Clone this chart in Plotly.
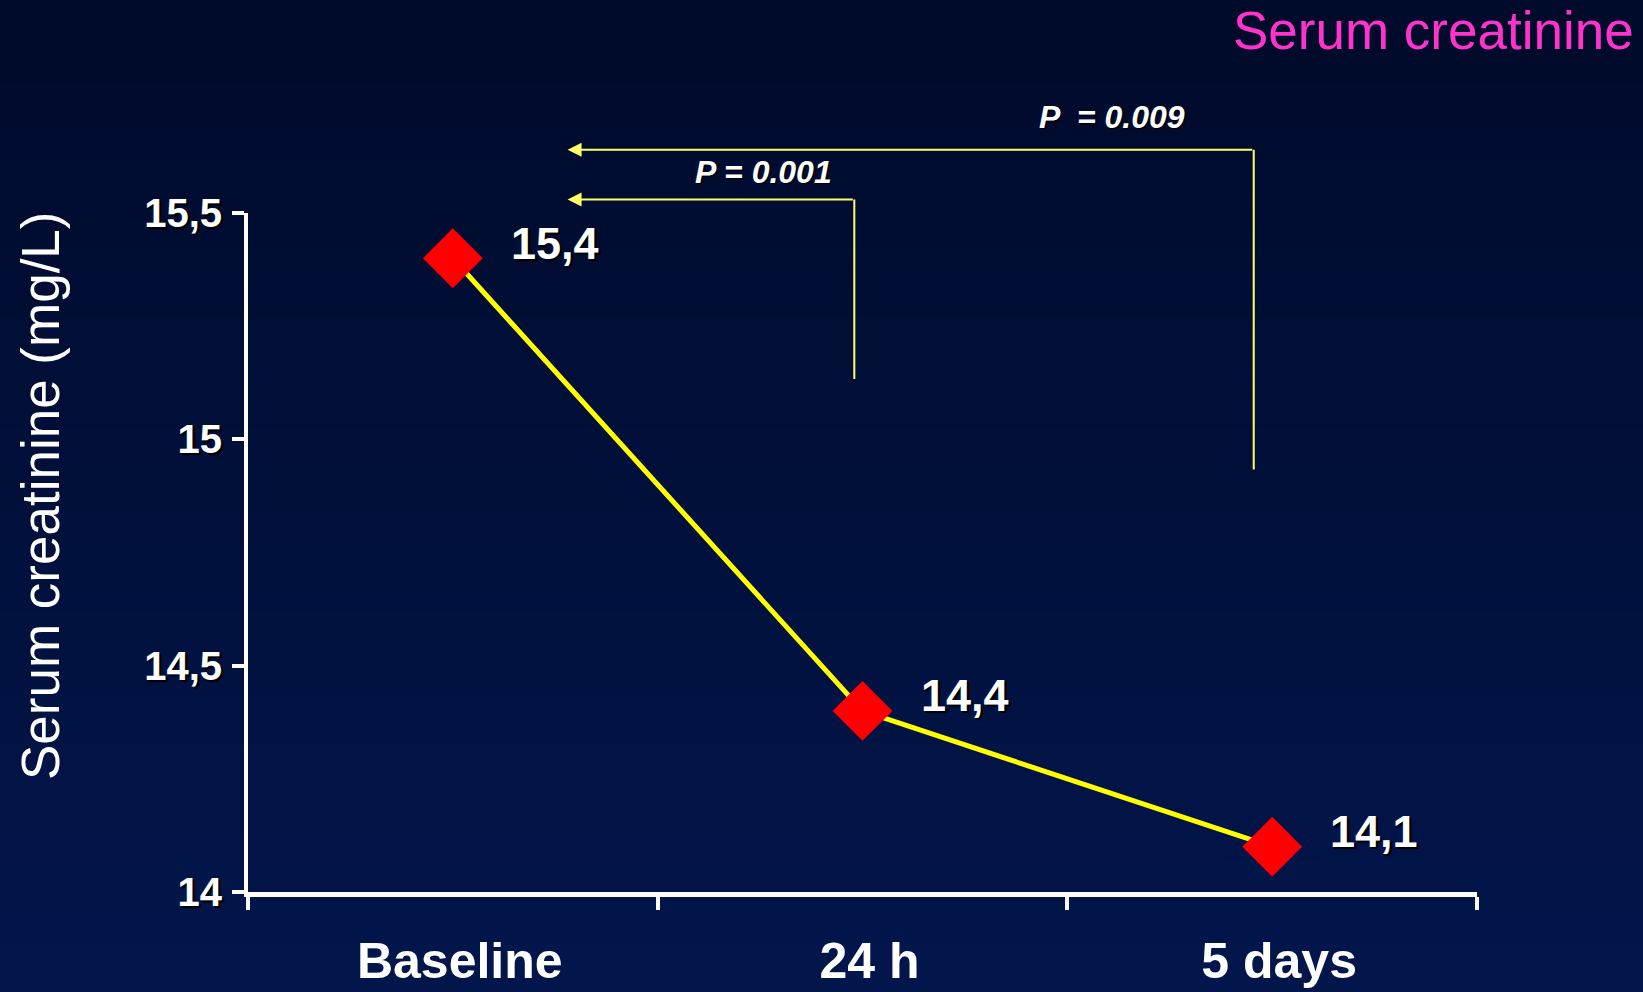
import plotly.graph_objects as go

# ---- data ----
categories = ["Baseline", "24 h", "5 days"]
creatinine = [15.4, 14.4, 14.1]
value_labels = ["15,4", "14,4", "14,1"]
x_ticktext = ["\u00a0Baseline", "\u00a024 h", "\u00a05 days"]
y_ticks = [14, 14.5, 15, 15.5]
y_ticktext = ["14", "14,5", "15", "15,5"]
comparisons = [
    {"label": "P = 0.001", "to": 0.28, "from": 0.98, "y": 15.53, "y_bottom": 15.13},
    {"label": "P \u00a0= 0.009", "to": 0.28, "from": 1.955, "y": 15.64, "y_bottom": 14.93},
]
Y_MIN, Y_MAX = 14, 15.5

W, H = 1643, 992
L, R, T, B = 248, 166, 213, 100

def py2paper(py):
    return (H - B - py) / (H - T - B)

def px2paper(px):
    return (px - L) / (W - L - R)

fig = go.Figure()

fig.add_trace(go.Scatter(
    x=categories, y=creatinine, mode="lines+markers",
    line=dict(color="#ffff00", width=5),
    marker=dict(symbol="diamond", size=46, color="#ff0000", line=dict(width=0)),
    cliponaxis=False, showlegend=False, hoverinfo="skip",
))

# background gradient bands
top = (0x00, 0x0a, 0x2a)
bot = (0x02, 0x16, 0x4c)
n = 60
shapes = []
for i in range(n):
    t = i / (n - 1)
    c = tuple(round(top[k] + (bot[k] - top[k]) * t) for k in range(3))
    y0 = i * H / n
    y1 = (i + 1) * H / n + 1
    shapes.append(dict(type="rect", xref="paper", yref="paper",
                       x0=px2paper(-5), x1=px2paper(W + 5),
                       y0=py2paper(y1), y1=py2paper(y0),
                       fillcolor="rgb(%d,%d,%d)" % c, line=dict(width=0), layer="below"))

annotations = []
# value labels
for cat, v, lab in zip(categories, creatinine, value_labels):
    annotations.append(dict(x=cat, y=v, xref="x", yref="y", text=lab, showarrow=False,
                            xanchor="left", yanchor="middle", xshift=56, yshift=15,
                            font=dict(family="Liberation Sans, Arial", size=45, color="white",
                                      weight="bold", shadow="2px 2px 1px black")))

# comparison brackets
for c in comparisons:
    # vertical line
    annotations.append(dict(x=c["from"], y=c["y"], ax=c["from"], ay=c["y_bottom"],
                            xref="x", yref="y", axref="x", ayref="y", text="",
                            showarrow=True, arrowhead=0, arrowwidth=2, arrowcolor="#ffff66"))
    # horizontal arrow (y expressed in paper fraction so it is not hidden above range)
    yp = (c["y"] - Y_MIN) / (Y_MAX - Y_MIN)
    annotations.append(dict(x=c["to"], y=yp, ax=c["from"], ay=0,
                            xref="x", yref="paper", axref="x", ayref="pixel", text="",
                            showarrow=True, arrowhead=2, arrowsize=1.4, arrowwidth=2,
                            arrowcolor="#ffff66"))
# p labels
annotations.append(dict(x=px2paper(763), y=py2paper(172), xref="paper", yref="paper",
                        text="<i>" + comparisons[0]["label"] + "</i>", showarrow=False,
                        xanchor="center", yanchor="middle",
                        font=dict(family="Liberation Sans, Arial", size=32, color="white",
                                  weight="bold", shadow="1px 1px 1px black")))
annotations.append(dict(x=px2paper(1112), y=py2paper(117), xref="paper", yref="paper",
                        text="<i>" + comparisons[1]["label"] + "</i>", showarrow=False,
                        xanchor="center", yanchor="middle",
                        font=dict(family="Liberation Sans, Arial", size=32, color="white",
                                  weight="bold", shadow="1px 1px 1px black")))

# title
annotations.append(dict(x=px2paper(1636), y=py2paper(30), xref="paper", yref="paper",
                        text="Serum creatinine", showarrow=False, xanchor="right",
                        yanchor="middle",
                        font=dict(family="Liberation Sans, Arial", size=53, color="#ff33cc")))
# y-axis title
annotations.append(dict(x=px2paper(40), y=py2paper(496), xref="paper", yref="paper",
                        text="Serum creatinine (mg/L)", showarrow=False, textangle=-90,
                        xanchor="center", yanchor="middle",
                        font=dict(family="Liberation Sans, Arial", size=53, color="white")))

fig.update_layout(
    width=W, height=H,
    margin=dict(l=L, r=R, t=T, b=B),
    paper_bgcolor="#01113e", plot_bgcolor="rgba(0,0,0,0)",
    shapes=shapes, annotations=annotations, showlegend=False,
    xaxis=dict(type="category", range=[-0.5, 2.5], tickson="boundaries", automargin=False,
               tickvals=categories, ticktext=x_ticktext,
               showline=True, linecolor="white", linewidth=5, showgrid=False, zeroline=False,
               ticks="outside", ticklen=13, tickwidth=4, tickcolor="white",
               ticklabelstandoff=21,
               tickfont=dict(family="Liberation Sans, Arial", size=50, color="white", weight="bold")),
    yaxis=dict(range=[Y_MIN, Y_MAX], tickvals=y_ticks, ticktext=y_ticktext, automargin=False,
               showline=True, linecolor="white", linewidth=4, showgrid=False, zeroline=False,
               ticks="outside", ticklen=12, tickwidth=4, tickcolor="white",
               ticklabelstandoff=2,
               tickfont=dict(family="Liberation Sans, Arial", size=40, color="white", weight="bold",
                             shadow="2px 2px 1px black")),
)

fig.write_html("out.html", config={"displayModeBar": False},
               post_script="document.body.style.margin='0';document.body.style.overflow='hidden';")
